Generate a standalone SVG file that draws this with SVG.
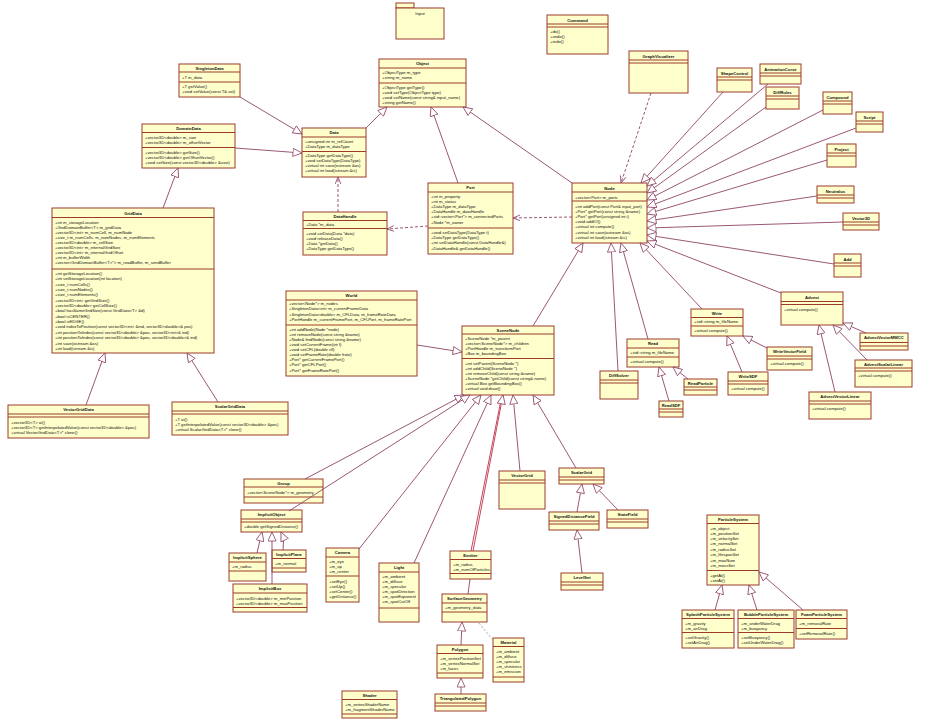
<svg xmlns="http://www.w3.org/2000/svg" width="927" height="723" viewBox="0 0 927 723">
<style>
rect{fill:#FFFFCC;stroke:#9C3B2B;stroke-width:1}
.sp{stroke:#9C3B2B;stroke-width:1;fill:none}
.t{font-family:"Liberation Sans",Arial,sans-serif;font-size:4.2px;font-weight:bold;text-anchor:middle;fill:#111}
.m{font-family:"Liberation Sans",Arial,sans-serif;font-size:4.2px;fill:#111}
.c{stroke:#8E4466;stroke-width:0.9;fill:none}
.g{marker-end:url(#gen)}
.d{stroke-dasharray:3,2;marker-end:url(#dep)}
.r{stroke:#C0304A}
</style>
<defs>
<marker id="gen" viewBox="0 0 10 10" refX="10" refY="5" markerWidth="10" markerHeight="9" markerUnits="userSpaceOnUse" orient="auto"><path d="M0,0.5 L10,5 L0,9.5 z" fill="#fff" stroke="#8E4466" stroke-width="0.9"/></marker>
<marker id="dep" viewBox="0 0 10 10" refX="10" refY="5" markerWidth="7" markerHeight="7" markerUnits="userSpaceOnUse" orient="auto"><path d="M0,1 L10,5 L0,9" fill="none" stroke="#8E4466" stroke-width="1.2"/></marker>
</defs>
<rect x="0" y="0" width="927" height="723" style="fill:#fff;stroke:none"/>

<g id="n-input"><rect x="396" y="3" width="18" height="5"/><rect x="396" y="8" width="48" height="31"/><text class="m" x="420" y="15" text-anchor="middle">Input</text></g>

<g id="n-command"><rect x="547" y="15" width="61" height="39"/><text class="t" x="577.5" y="21.5">Command</text><path class="sp" d="M547,24H608M547,27H608"/><text class="m" x="550" y="33">+do()</text><text class="m" x="550" y="38">+undo()</text><text class="m" x="550" y="43">+redo()</text></g>

<g id="n-graphvisualizer"><rect x="629" y="51" width="59" height="42"/><text class="t" x="658.5" y="57.5">GraphVisualizer</text><path class="sp" d="M629,60H688M629,63H688"/></g>

<g id="n-shapecontrol"><rect x="717" y="68" width="35" height="24"/><text class="t" x="734.5" y="74.5">ShapeControl</text><path class="sp" d="M717,77H752M717,80H752"/></g>
<g id="n-animationcurve"><rect x="760" y="64" width="41" height="20"/><text class="t" x="780.5" y="70.5">AnimationCurve</text><path class="sp" d="M760,73H801M760,76H801"/></g>
<g id="n-diffrules"><rect x="766" y="87" width="33" height="22"/><text class="t" x="782.5" y="93.5">DiffRules</text><path class="sp" d="M766,96H799M766,99H799"/></g>
<g id="n-compound"><rect x="823" y="92" width="29" height="22"/><text class="t" x="837.5" y="98.5">Compound</text><path class="sp" d="M823,101H852M823,104H852"/></g>
<g id="n-script"><rect x="856" y="112" width="27" height="20"/><text class="t" x="869.5" y="118.5">Script</text><path class="sp" d="M856,121H883M856,124H883"/></g>
<g id="n-project"><rect x="827" y="144" width="29" height="23"/><text class="t" x="841.5" y="150.5">Project</text><path class="sp" d="M827,153H856M827,156H856"/></g>
<g id="n-neutralus"><rect x="817" y="186" width="37" height="17"/><text class="t" x="835.5" y="192.5">Neutralus</text><path class="sp" d="M817,195H854M817,198H854"/></g>
<g id="n-vector3d"><rect x="843" y="213" width="36" height="17"/><text class="t" x="861" y="219.5">Vector3D</text><path class="sp" d="M843,222H879M843,225H879"/></g>
<g id="n-add"><rect x="834" y="254" width="27" height="23"/><text class="t" x="847.5" y="260.5">Add</text><path class="sp" d="M834,263H861M834,266H861"/></g>

<g id="n-object"><rect x="379" y="59" width="87" height="48"/><text class="t" x="422.5" y="65">Object</text><path class="sp" d="M379,68H466M379,83H466"/>
<text class="m" x="382" y="73.5">+ObjectType m_type</text><text class="m" x="382" y="78.5">+string m_name</text>
<text class="m" x="382" y="88.5">+ObjectType getType()</text><text class="m" x="382" y="93.5">+void setType(ObjectType type)</text><text class="m" x="382" y="98.5">+void setName(const string&amp; input_name)</text><text class="m" x="382" y="103.5">+string getName()</text></g>

<g id="n-data"><rect x="302" y="128" width="64" height="49"/><text class="t" x="334" y="134">Data</text><path class="sp" d="M302,137H366M302,151.5H366"/>
<text class="m" x="305" y="142.5">+unsigned int m_refCount</text><text class="m" x="305" y="147.5">+DataType m_dataType</text>
<text class="m" x="305" y="156.5">+DataType getDataType()</text><text class="m" x="305" y="161.5">+void setDataType(DataType)</text><text class="m" x="305" y="166.5">+virtual int save(ostream &amp;os)</text><text class="m" x="305" y="171.5">+virtual int load(istream &amp;is)</text></g>

<g id="n-datahandle"><rect x="303" y="212" width="84" height="43"/><text class="t" x="345" y="218">DataHandle</text><path class="sp" d="M303,220.5H387M303,228.5H387"/>
<text class="m" x="306" y="226">+Data *m_data</text>
<text class="m" x="306" y="234.5">+void setData(Data *data)</text><text class="m" x="306" y="239.5">+void releaseData()</text><text class="m" x="306" y="244.5">+Data *getData()</text><text class="m" x="306" y="249.5">+DataType getDataType()</text></g>

<g id="n-port"><rect x="428" y="183" width="85" height="71"/><text class="t" x="470.5" y="189">Port</text><path class="sp" d="M428,192H513M428,228H513"/>
<text class="m" x="431" y="198">+int m_property</text><text class="m" x="431" y="203">+int m_status</text><text class="m" x="431" y="208">+DataType m_dataType</text><text class="m" x="431" y="213">+DataHandle m_dataHandle</text><text class="m" x="431" y="218">+std::vector&lt;Port*&gt; m_connectedPorts</text><text class="m" x="431" y="223.5">+Node *m_owner</text>
<text class="m" x="431" y="234">+void setDataType(DataType t)</text><text class="m" x="431" y="239">+DataType getDataType()</text><text class="m" x="431" y="244">+int setDataHandle(const DataHandle&amp;)</text><text class="m" x="431" y="249.5">+DataHandle&amp; getDataHandle()</text></g>

<g id="n-node"><rect x="572" y="183" width="75" height="60"/><text class="t" x="609.5" y="189.5">Node</text><path class="sp" d="M572,192H647M572,201H647"/>
<text class="m" x="575" y="198.5">+vector&lt;Port&gt; m_ports</text>
<text class="m" x="575" y="207.6">+int addPort(const Port&amp; input_port)</text><text class="m" x="575" y="212.8">+Port* getPort(const string &amp;name)</text><text class="m" x="575" y="218">+Port* getPort(unsigned int i)</text><text class="m" x="575" y="223.2">+void addIO()</text><text class="m" x="575" y="228.4">+virtual int compute()</text><text class="m" x="575" y="233.6">+virtual int save(ostream &amp;os)</text><text class="m" x="575" y="238.8">+virtual int load(istream &amp;is)</text></g>

<g id="n-singletondata"><rect x="179" y="64" width="61" height="33"/><text class="t" x="209.5" y="69.5">SingletonData</text><path class="sp" d="M179,72H240M179,82H240"/>
<text class="m" x="182" y="78.5">+T m_data</text><text class="m" x="182" y="87.5">+T getValue()</text><text class="m" x="182" y="92.5">+void setValue(const T&amp; val)</text></g>

<g id="n-domaindata"><rect x="142" y="124" width="93" height="44"/><text class="t" x="188.5" y="129.5">DomainData</text><path class="sp" d="M142,132.5H235M142,147.5H235"/>
<text class="m" x="145" y="139">+vector3D&lt;double&gt; m_size</text><text class="m" x="145" y="144">+vector3D&lt;double&gt; m_offsetVector</text>
<text class="m" x="145" y="153.5">+vector3D&lt;double&gt; getSize()</text><text class="m" x="145" y="158.5">+vector3D&lt;double&gt; getOffsetVector()</text><text class="m" x="145" y="163.5">+void setSize(const vector3D&lt;double&gt; &amp;size)</text></g>

<g id="n-griddata"><rect x="52" y="208" width="162" height="145"/><text class="t" x="133" y="214.5">GridData</text><path class="sp" d="M52,217.5H214M52,269H214"/>
<text class="m" x="55" y="223.5">+int m_storageLocation</text>
<text class="m" x="55" y="228.5">+GridDomainBuffer&lt;T&gt; m_gridData</text>
<text class="m" x="55" y="233.5">+vector3D&lt;int&gt; m_numCell, m_numNode</text>
<text class="m" x="55" y="238.5">+size_t m_numCells, m_numNodes, m_numElements</text>
<text class="m" x="55" y="243.5">+vector3D&lt;double&gt; m_cellSize</text>
<text class="m" x="55" y="248.5">+vector3D&lt;int&gt; m_internalGridSize</text>
<text class="m" x="55" y="253.5">+vector3D&lt;int&gt; m_internalGridOffset</text>
<text class="m" x="55" y="258.5">+int m_bufferWidth</text>
<text class="m" x="55" y="263.8">+vector&lt;GridDomainBuffer&lt;T&gt;*&gt; m_readBuffer, m_sendBuffer</text>
<text class="m" x="55" y="274.8">+int getStorageLocation()</text>
<text class="m" x="55" y="280.2">+int setStorageLocation(int location)</text>
<text class="m" x="55" y="285.5">+size_t numCells()</text>
<text class="m" x="55" y="290.9">+size_t numNodes()</text>
<text class="m" x="55" y="296.2">+size_t numElements()</text>
<text class="m" x="55" y="301.6">+vector3D&lt;int&gt; getGridSize()</text>
<text class="m" x="55" y="307">+vector3D&lt;double&gt; getCellSize()</text>
<text class="m" x="55" y="312.3">+bool hasSameGridSize(const GridData&lt;T&gt; &amp;d)</text>
<text class="m" x="55" y="317.7">+bool isCENTER()</text>
<text class="m" x="55" y="323">+bool isEDGE()</text>
<text class="m" x="55" y="328.4">+void indexToPosition(const vector3D&lt;int&gt; &amp;ind, vector3D&lt;double&gt;&amp; pos)</text>
<text class="m" x="55" y="333.8">+int positionToIndex(const vector3D&lt;double&gt; &amp;pos, vector3D&lt;int&gt;&amp; ind)</text>
<text class="m" x="55" y="339.1">+int positionToIndex(const vector3D&lt;double&gt; &amp;pos, vector3D&lt;double&gt;&amp; ind)</text>
<text class="m" x="55" y="344.5">+int save(ostream &amp;os)</text>
<text class="m" x="55" y="349.8">+int load(istream &amp;is)</text></g>

<g id="n-vectorgriddata"><rect x="8" y="405" width="141" height="33"/><text class="t" x="78.5" y="410.5">VectorGridData</text><path class="sp" d="M8,414H149M8,417H149"/>
<text class="m" x="11" y="423.5">+vector3D&lt;T&gt; at()</text><text class="m" x="11" y="428.5">+vector3D&lt;T&gt; getInterpolatedValue(const vector3D&lt;double&gt; &amp;pos)</text><text class="m" x="11" y="433.5">+virtual VectorGridData&lt;T&gt;* clone()</text></g>

<g id="n-scalargriddata"><rect x="172" y="402" width="116" height="33"/><text class="t" x="230" y="407.5">ScalarGridData</text><path class="sp" d="M172,411H288M172,414H288"/>
<text class="m" x="175" y="420.5">+T at()</text><text class="m" x="175" y="425.5">+T getInterpolatedValue(const vector3D&lt;double&gt; &amp;pos)</text><text class="m" x="175" y="430.5">+virtual ScalarGridData&lt;T&gt;* clone()</text></g>

<g id="n-world"><rect x="286" y="291" width="131" height="85"/><text class="t" x="351.5" y="297">World</text><path class="sp" d="M286,300H417M286,325H417"/>
<text class="m" x="289" y="305">+vector&lt;Node*&gt; m_nodes</text><text class="m" x="289" y="310">+SingletonData&lt;int&gt; m_currentFrameData</text><text class="m" x="289" y="315.5">+SingletonData&lt;double&gt; m_CFLData, m_frameRateData</text><text class="m" x="289" y="320.5">+PortHandle m_currentFramePort, m_CFLPort, m_frameRatePort</text>
<text class="m" x="289" y="330.5">+int addNode(Node *node)</text><text class="m" x="289" y="335.5">+int removeNode(const string &amp;name)</text><text class="m" x="289" y="340.5">+Node&amp; findNode(const string &amp;name)</text><text class="m" x="289" y="345.5">+void setCurrentFrame(int f)</text><text class="m" x="289" y="350.5">+void setCFL(double cfl)</text><text class="m" x="289" y="356">+void setFrameRate(double frate)</text><text class="m" x="289" y="361">+Port* getCurrentFramePort()</text><text class="m" x="289" y="366">+Port* getCFLPort()</text><text class="m" x="289" y="371.5">+Port* getFrameRatePort()</text></g>

<g id="n-scenenode"><rect x="462" y="326" width="92" height="69"/><text class="t" x="508" y="331.5">SceneNode</text><path class="sp" d="M462,334H554M462,358.5H554"/>
<text class="m" x="465" y="339.5">+SceneNode *m_parent</text><text class="m" x="465" y="344.5">+vector&lt;SceneNode*&gt; m_children</text><text class="m" x="465" y="349.5">+PortHandle m_transformPort</text><text class="m" x="465" y="354.5">+Box m_boundingBox</text>
<text class="m" x="465" y="364.5">+int setParent(SceneNode *)</text><text class="m" x="465" y="369.5">+int addChild(SceneNode *)</text><text class="m" x="465" y="374.5">+int removeChild(const string &amp;name)</text><text class="m" x="465" y="379.5">+SceneNode *getChild(const string&amp; name)</text><text class="m" x="465" y="384.5">+virtual Box getBoundingBox()</text><text class="m" x="465" y="389.5">+virtual void draw()</text></g>

<g id="n-diffsolver"><rect x="600" y="371" width="38" height="28"/><text class="t" x="619" y="377">DiffSolver</text><path class="sp" d="M600,380H638M600,383H638"/></g>
<g id="n-read"><rect x="627" y="339" width="52" height="28"/><text class="t" x="653" y="345">Read</text><path class="sp" d="M627,348H679M627,357H679"/><text class="m" x="630" y="354">+std::string m_fileName</text><text class="m" x="630" y="363">+virtual compute()</text></g>
<g id="n-readparticle"><rect x="684" y="379" width="33" height="16"/><text class="t" x="700.5" y="384.5">ReadParticle</text><path class="sp" d="M684,387H717M684,390H717"/></g>
<g id="n-readsdf"><rect x="659" y="401" width="24" height="16"/><text class="t" x="671" y="406.5">ReadSDF</text><path class="sp" d="M659,409H683M659,412H683"/></g>
<g id="n-write"><rect x="691" y="309" width="52" height="27"/><text class="t" x="717" y="315">Write</text><path class="sp" d="M691,317.5H743M691,326H743"/><text class="m" x="694" y="323">+std::string m_fileName</text><text class="m" x="694" y="332">+virtual compute()</text></g>
<g id="n-writevectorfield"><rect x="767" y="347" width="45" height="23"/><text class="t" x="789.5" y="353">WriteVectorField</text><path class="sp" d="M767,356H812M767,359H812"/><text class="m" x="770" y="365">+virtual compute()</text></g>
<g id="n-writesdf"><rect x="728" y="372" width="40" height="23"/><text class="t" x="748" y="378">WriteSDF</text><path class="sp" d="M728,381H768M728,384H768"/><text class="m" x="731" y="390">+virtual compute()</text></g>
<g id="n-advect"><rect x="781" y="292" width="62" height="33"/><text class="t" x="812" y="298.5">Advect</text><path class="sp" d="M781,301.5H843M781,304.5H843"/><text class="m" x="784" y="310.5">+virtual compute()</text></g>
<g id="n-advectvectormmcc"><rect x="860" y="333" width="48" height="17"/><text class="t" x="884" y="339">AdvectVectorMMCC</text><path class="sp" d="M860,342.5H908M860,346H908"/></g>
<g id="n-advectscalarlinear"><rect x="855" y="360" width="57" height="27"/><text class="t" x="883.5" y="365.5">AdvectScalarLinear</text><path class="sp" d="M855,368H912M855,371H912"/><text class="m" x="858" y="377">+virtual compute()</text></g>
<g id="n-advectvectorlinear"><rect x="809" y="392" width="62" height="27"/><text class="t" x="840" y="398">AdvectVectorLinear</text><path class="sp" d="M809,401H871M809,404H871"/><text class="m" x="812" y="410">+virtual compute()</text></g>

<g id="n-group"><rect x="244" y="479" width="79" height="24"/><text class="t" x="283.5" y="484.5">Group</text><path class="sp" d="M244,487H323M244,497H323"/><text class="m" x="247" y="493.5">+vector&lt;SceneNode*&gt; m_geometry</text></g>
<g id="n-implicitobject"><rect x="241" y="510" width="61" height="22"/><text class="t" x="271.5" y="515.5">ImplicitObject</text><path class="sp" d="M241,519H302M241,522H302"/><text class="m" x="244" y="528">+double getSignedDistance()</text></g>
<g id="n-implicitsphere"><rect x="229" y="553" width="37" height="28"/><text class="t" x="247.5" y="558.5">ImplicitSphere</text><path class="sp" d="M229,562H266M229,571H266"/><text class="m" x="232" y="567.5">+m_radius</text></g>
<g id="n-implicitplane"><rect x="272" y="550" width="34" height="22"/><text class="t" x="289" y="555.5">ImplicitPlane</text><path class="sp" d="M272,558.5H306M272,568H306"/><text class="m" x="275" y="564.5">+m_normal</text></g>
<g id="n-implicitbox"><rect x="233" y="584" width="74" height="28"/><text class="t" x="270" y="589.5">ImplicitBox</text><path class="sp" d="M233,593H307M233,607.5H307"/><text class="m" x="236" y="599.5">+vector3D&lt;double&gt; m_minPosition</text><text class="m" x="236" y="604.5">+vector3D&lt;double&gt; m_maxPosition</text></g>

<g id="n-camera"><rect x="326" y="548" width="33" height="54"/><text class="t" x="342.5" y="553.5">Camera</text><path class="sp" d="M326,557H359M326,576H359"/><text class="m" x="329" y="562.5">+m_eye</text><text class="m" x="329" y="567.5">+m_up</text><text class="m" x="329" y="572.5">+m_center</text><text class="m" x="329" y="582.5">+setEye()</text><text class="m" x="329" y="587.5">+setUp()</text><text class="m" x="329" y="593">+setCenter()</text><text class="m" x="329" y="598">+getDistance()</text></g>
<g id="n-light"><rect x="379" y="563" width="40" height="59"/><text class="t" x="399" y="568.5">Light</text><path class="sp" d="M379,572H419M379,608H419"/><text class="m" x="382" y="577.5">+m_ambient</text><text class="m" x="382" y="582.5">+m_diffuse</text><text class="m" x="382" y="587.5">+m_specular</text><text class="m" x="382" y="593">+m_spotDirection</text><text class="m" x="382" y="598">+m_spotExponent</text><text class="m" x="382" y="603">+m_spotCutOff</text></g>
<g id="n-emitter"><rect x="450" y="551" width="41" height="28"/><text class="t" x="470.5" y="556.5">Emitter</text><path class="sp" d="M450,559.5H491M450,573.5H491"/><text class="m" x="453" y="565.5">+m_radius</text><text class="m" x="453" y="570.5">+m_numOfParticles</text></g>
<g id="n-surfacegeometry"><rect x="442" y="594" width="45" height="28"/><text class="t" x="464.5" y="599.5">SurfaceGeometry</text><path class="sp" d="M442,603H487M442,612H487"/><text class="m" x="445" y="608.5">+m_geometry_data</text></g>
<g id="n-polygon"><rect x="437" y="645" width="46" height="33"/><text class="t" x="460" y="650.5">Polygon</text><path class="sp" d="M437,653.5H483M437,673H483"/><text class="m" x="440" y="659.5">+m_vertexPositionSet</text><text class="m" x="440" y="664.5">+m_vertexNormalSet</text><text class="m" x="440" y="669.5">+m_faces</text></g>
<g id="n-material"><rect x="493" y="638" width="31" height="44"/><text class="t" x="508.5" y="643.5">Material</text><path class="sp" d="M493,646.5H524M493,677H524"/><text class="m" x="496" y="652.5">+m_ambient</text><text class="m" x="496" y="657.5">+m_diffuse</text><text class="m" x="496" y="662.5">+m_specular</text><text class="m" x="496" y="668">+m_shininess</text><text class="m" x="496" y="673">+m_emission</text></g>
<g id="n-triangulatedpolygon"><rect x="435" y="694" width="51" height="17"/><text class="t" x="460.5" y="699.5">TriangulatedPolygon</text><path class="sp" d="M435,703H486M435,706H486"/></g>
<g id="n-shader"><rect x="342" y="691" width="55" height="27"/><text class="t" x="369.5" y="696.5">Shader</text><path class="sp" d="M342,699.5H397M342,714H397"/><text class="m" x="345" y="705.5">+m_vertexShaderName</text><text class="m" x="345" y="710.5">+m_fragmentShaderName</text></g>

<g id="n-vectorgrid"><rect x="499" y="471" width="46" height="38"/><text class="t" x="522" y="476.5">VectorGrid</text><path class="sp" d="M499,480H545M499,483H545"/></g>
<g id="n-scalargrid"><rect x="559" y="468" width="45" height="16"/><text class="t" x="581.5" y="473.5">ScalarGrid</text><path class="sp" d="M559,477H604M559,480H604"/></g>
<g id="n-signeddistancefield"><rect x="549" y="512" width="50" height="18"/><text class="t" x="574" y="517.5">SignedDistanceField</text><path class="sp" d="M549,521H599M549,524H599"/></g>
<g id="n-statefield"><rect x="607" y="510" width="41" height="18"/><text class="t" x="627.5" y="515.5">StateField</text><path class="sp" d="M607,519H648M607,522H648"/></g>
<g id="n-levelset"><rect x="561" y="573" width="42" height="17"/><text class="t" x="582" y="578.5">LevelSet</text><path class="sp" d="M561,582H603M561,585H603"/></g>

<g id="n-particlesystem"><rect x="707" y="515" width="52" height="70"/><text class="t" x="733" y="520.5">ParticleSystem</text><path class="sp" d="M707,523.5H759M707,570.5H759"/>
<text class="m" x="710" y="529.5">+m_object</text><text class="m" x="710" y="534.5">+m_positionSet</text><text class="m" x="710" y="539.5">+m_velocitySet</text><text class="m" x="710" y="544.5">+m_normalSet</text><text class="m" x="710" y="550.5">+m_radiusSet</text><text class="m" x="710" y="555.5">+m_lifespanSet</text><text class="m" x="710" y="561.5">+m_maxNum</text><text class="m" x="710" y="566.5">+m_massSet</text>
<text class="m" x="710" y="576.5">+getAt()</text><text class="m" x="710" y="581.5">+setAt()</text></g>
<g id="n-splashparticlesystem"><rect x="682" y="610" width="52" height="38"/><text class="t" x="708" y="615.5">SplashParticleSystem</text><path class="sp" d="M682,618.5H734M682,632.5H734"/><text class="m" x="685" y="625">+m_gravity</text><text class="m" x="685" y="629.5">+m_airDrag</text><text class="m" x="685" y="638.5">+setGravity()</text><text class="m" x="685" y="644">+setAirDrag()</text></g>
<g id="n-bubbleparticlesystem"><rect x="738" y="610" width="56" height="38"/><text class="t" x="766" y="615.5">BubbleParticleSystem</text><path class="sp" d="M738,618.5H794M738,632.5H794"/><text class="m" x="741" y="625">+m_underWaterDrag</text><text class="m" x="741" y="629.5">+m_buoyancy</text><text class="m" x="741" y="638.5">+setBuoyancy()</text><text class="m" x="741" y="644">+setUnderWaterDrag()</text></g>
<g id="n-foamparticlesystem"><rect x="796" y="610" width="51" height="29"/><text class="t" x="821.5" y="615.5">FoamParticleSystem</text><path class="sp" d="M796,618.5H847M796,628.5H847"/><text class="m" x="799" y="625">+m_removalRate</text><text class="m" x="799" y="634.5">+setRemovalRate()</text></g>

<g id="connectors">
<path class="c g" d="M240,97L302,134"/>
<path class="c g" d="M235,148L302,153"/>
<path class="c g" d="M366,128L387,107"/>
<path class="c g" d="M458,183L431,107"/>
<path class="c g" d="M572,183L463,107"/>
<path class="c g" d="M163,208L178,168"/>
<path class="c g" d="M86,405L105,353"/>
<path class="c g" d="M218,402L187,353"/>
<path class="c g" d="M723,92L641,183"/>
<path class="c g" d="M768,84L647,186"/>
<path class="c g" d="M766,107L647,193"/>
<path class="c g" d="M823,110L647,200"/>
<path class="c g" d="M856,128L647,207"/>
<path class="c g" d="M827,160L647,214"/>
<path class="c g" d="M817,196L647,221"/>
<path class="c g" d="M843,222L647,228"/>
<path class="c g" d="M834,264L647,235"/>
<path class="c g" d="M781,293L647,241"/>
<path class="c g" d="M533,326L583,243"/>
<path class="c g" d="M618,371L611,243"/>
<path class="c g" d="M648,339L621,243"/>
<path class="c g" d="M702,309L640,243"/>
<path class="c g" d="M669,401L659,367"/>
<path class="c g" d="M688,379L673,367"/>
<path class="c g" d="M742,372L727,336"/>
<path class="c g" d="M767,348L743,336"/>
<path class="c g" d="M835,392L819,325"/>
<path class="c g" d="M867,360L833,325"/>
<path class="c g" d="M866,333L843,323"/>
<path class="c g" d="M417,345L462,352"/>
<path class="c g" d="M305,479L464,395"/>
<path class="c g" d="M289,511L470,395"/>
<path class="c g" d="M359,549L481,395"/>
<path class="c g" d="M414,563L491,395"/>
<path class="c r" d="M471,551L501,400"/>
<path class="c g r" d="M473,551L503,395"/>
<path class="c g" d="M520,471L513,395"/>
<path class="c g" d="M576,468L533,395"/>
<path class="c g" d="M257,553L262,532"/>
<path class="c g" d="M272,584L272,532"/>
<path class="c g" d="M283,550Q285,541 281,532"/>
<path class="c g" d="M461,645L462,622"/>
<path class="c g" d="M461,694L461,678"/>
<path class="c g" d="M577,512L582,484"/>
<path class="c g" d="M618,510L593,484"/>
<path class="c g" d="M582,573L577,530"/>
<path class="c g" d="M715,610L722,585"/>
<path class="c g" d="M757,610L749,585"/>
<path class="c g" d="M803,610L759,572"/>
<path class="c" d="M470,579L468,594"/>
<path class="c d" d="M338,212L338,177"/>
<path class="c d" d="M428,226L387,229"/>
<path class="c d" d="M572,217L513,218"/>
<path class="c d" d="M651,93L621,183"/>
<path class="c" style="stroke:#999;stroke-dasharray:2,2" d="M493,640L478,622"/>
</g>
</svg>
